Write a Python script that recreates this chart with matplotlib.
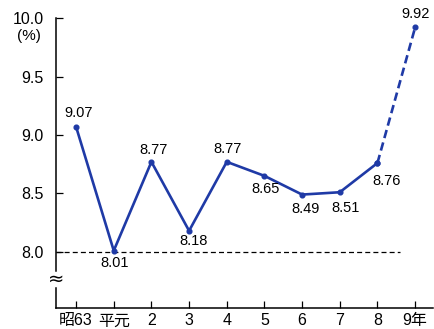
import matplotlib

matplotlib.use("Agg")
import matplotlib.pyplot as plt

plt.rcParams["font.family"] = ["Liberation Sans", "Noto Sans CJK JP", "DejaVu Sans"]

# 年次と利回り (%)
years = ["昭63", "平元", "2", "3", "4", "5", "6", "7", "8", "9年"]
rates = [9.07, 8.01, 8.77, 8.18, 8.77, 8.65, 8.49, 8.51, 8.76, 9.92]
y_ticks = [8.0, 8.5, 9.0, 9.5, 10.0]

# 数値ラベルのずらし (ピクセル)
label_offsets = [(3, 14), (1, -12), (2, 12), (4, -10), (1, 13),
                 (1, -13), (3, -14), (6, -16), (9, -18), (0, 13)]

BLUE = "#1f3aa6"

fig = plt.figure(figsize=(4.35, 3.29), dpi=100)
ax = fig.add_axes([0.129, 0.064, 0.866, 0.881])
x = list(range(len(years)))

# 実績 (実線) と 見込み (破線)
ax.plot(x[:-1], rates[:-1], color=BLUE, lw=1.9, marker="o", ms=3.4, zorder=3)
ax.plot(x[-2:], rates[-2:], color=BLUE, lw=1.9, ls=(0, (3.2, 1.7)),
        marker="o", ms=3.4, zorder=3)

for xi, v, (dx, dy) in zip(x, rates, label_offsets):
    ax.annotate(f"{v:.2f}", (xi, v), xytext=(dx, dy), textcoords="offset pixels",
                ha="center", va="center", fontsize=10.5)

# 8.0 の基準線
ax.plot([-0.53, 8.6], [8.0, 8.0], color="black", lw=0.9, ls=(0, (4, 2.5)))

ax.set_xlim(-0.53, 9.47)
ax.set_ylim(7.52, 10.0)
ax.set_xticks(x)
ax.set_xticklabels(years, fontsize=11.5)
ax.set_yticks(y_ticks)
ax.set_yticklabels([f"{t:.1f}" for t in y_ticks], fontsize=11.5)
ax.tick_params(direction="in", length=5, width=0.9, pad=4)
ax.tick_params(axis="y", pad=9)

for side in ("top", "right"):
    ax.spines[side].set_visible(False)
ax.spines["bottom"].set_linewidth(1.1)
ax.spines["left"].set_linewidth(1.1)
# 縦軸の省略部分
ax.spines["left"].set_bounds(7.84, 10.0)
ax.plot([-0.53, -0.53], [7.52, 7.69], color="black", lw=1.1, clip_on=False)
ax.text(-0.53, 7.765, "≈", ha="center", va="center", fontsize=14,
        family=["DejaVu Sans"])

fig.text(29 / 435, 1 - 36 / 329, "(%)", ha="center", va="center", fontsize=11)

fig.savefig("out.png", dpi=100)
